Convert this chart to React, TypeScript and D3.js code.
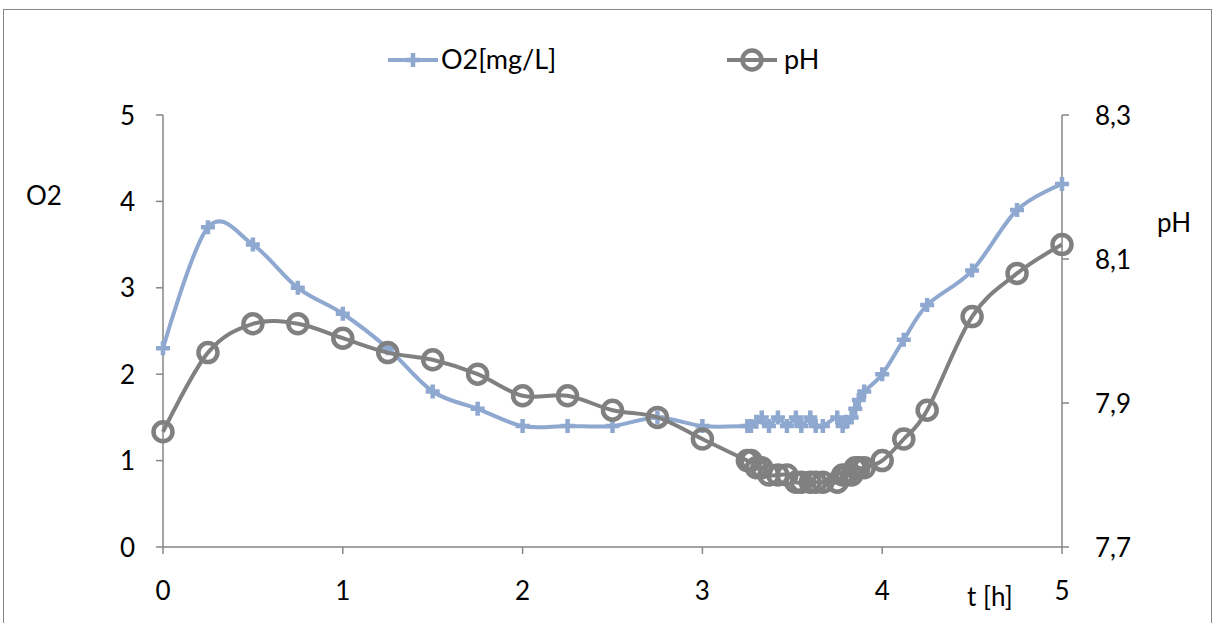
import React from "react";
import * as d3 from "d3";

const tHours = [0, 0.25, 0.5, 0.75, 1, 1.25, 1.5, 1.75, 2, 2.25, 2.5, 2.75, 3,
  3.25, 3.27, 3.3, 3.33, 3.37, 3.42, 3.47, 3.52, 3.55, 3.6, 3.63, 3.67, 3.75, 3.78, 3.8, 3.83, 3.85, 3.87, 3.9,
  4, 4.12, 4.25, 4.5, 4.75, 5];
const o2Values = [2.3, 3.7, 3.5, 3.0, 2.7, 2.3, 1.8, 1.6, 1.4, 1.4, 1.4, 1.5, 1.4,
  1.4, 1.4, 1.45, 1.5, 1.4, 1.5, 1.4, 1.5, 1.4, 1.5, 1.4, 1.4, 1.5, 1.4, 1.45, 1.5, 1.6, 1.7, 1.8,
  2.0, 2.4, 2.8, 3.2, 3.9, 4.2];
const phValues = [7.86, 7.97, 8.01, 8.01, 7.99, 7.97, 7.96, 7.94, 7.91, 7.91, 7.89, 7.88, 7.85,
  7.82, 7.82, 7.81, 7.81, 7.80, 7.80, 7.80, 7.79, 7.79, 7.79, 7.79, 7.79, 7.79, 7.80, 7.80, 7.80, 7.81, 7.81, 7.81,
  7.82, 7.85, 7.89, 8.02, 8.08, 8.12];
const xTicks = [0, 1, 2, 3, 4, 5];
const leftTicks = [0, 1, 2, 3, 4, 5];
const rightTicks = [7.7, 7.9, 8.1, 8.3];
const seriesNames = ["O2[mg/L]", "pH"];

const O2_COLOR = "#8EA8D0";
const PH_COLOR = "#808080";
const AXIS_COLOR = "#868686";
const FONT = "Lato, 'Open Sans', sans-serif";
const FS = 26;

export default function App() {
  const W = 1215, H = 623;
  const x = d3.scaleLinear().domain([0, 5]).range([163, 1062]);
  const yL = d3.scaleLinear().domain([0, 5]).range([547, 115]);
  const yR = d3.scaleLinear().domain([7.7, 8.3]).range([547, 115]);
  const curve = d3.curveCardinal.tension(0);
  const o2Line = d3.line<number>().x((_, i) => x(tHours[i])).y((d) => yL(d)).curve(curve);
  const phLine = d3.line<number>().x((_, i) => x(tHours[i])).y((d) => yR(d)).curve(curve);

  const plus = (cx: number, cy: number, key: string | number, s = 7) => (
    <path key={key} d={`M${cx - s},${cy}H${cx + s}M${cx},${cy - s}V${cy + s}`} stroke={O2_COLOR} strokeWidth={4.5} fill="none" />
  );
  const circ = (cx: number, cy: number, key: string | number) => (
    <circle key={key} cx={cx} cy={cy} r={9.5} stroke={PH_COLOR} strokeWidth={4.5} fill="none" />
  );

  return (
    <svg width={W} height={H} style={{ position: "absolute", left: 0, top: 0 }} fontFamily={FONT}>
      <rect x={0} y={0} width={W} height={H} fill="#fff" />
      <rect x={3.5} y={9.5} width={1208} height={640} fill="none" stroke={AXIS_COLOR} strokeWidth={1} />

      {/* axes */}
      <line x1={163} x2={163} y1={115} y2={547} stroke={AXIS_COLOR} strokeWidth={1.5} />
      <line x1={1062} x2={1062} y1={115} y2={547} stroke={AXIS_COLOR} strokeWidth={1.5} />
      <line x1={163} x2={1062} y1={547} y2={547} stroke={AXIS_COLOR} strokeWidth={1.5} />
      {xTicks.map((t) => (
        <g key={"x" + t}>
          <line x1={x(t)} x2={x(t)} y1={547} y2={554} stroke={AXIS_COLOR} strokeWidth={1.5} />
          <text x={x(t)} y={600} textAnchor="middle" fontSize={FS} fill="#000">{t}</text>
        </g>
      ))}
      {leftTicks.map((t) => (
        <g key={"l" + t}>
          <line x1={156} x2={163} y1={yL(t)} y2={yL(t)} stroke={AXIS_COLOR} strokeWidth={1.5} />
          <text x={135} y={yL(t) + 9.5} textAnchor="end" fontSize={FS} fill="#000">{t}</text>
        </g>
      ))}
      {rightTicks.map((t) => (
        <g key={"r" + t}>
          <line x1={1062} x2={1069} y1={yR(t)} y2={yR(t)} stroke={AXIS_COLOR} strokeWidth={1.5} />
          <text x={1095} y={yR(t) + 9.5} textAnchor="start" fontSize={FS} fill="#000">{t.toFixed(1).replace(".", ",")}</text>
        </g>
      ))}
      <text x={26} y={205} fontSize={FS} fill="#000">O2</text>
      <text x={1157} y={232} fontSize={FS} fill="#000">pH</text>
      <text x={967} y={606} fontSize={FS} fill="#000">t [h]</text>

      {/* series */}
      <path d={o2Line(o2Values) || ""} fill="none" stroke={O2_COLOR} strokeWidth={4} />
      {o2Values.map((v, i) => plus(x(tHours[i]), yL(v), "p" + i))}
      <path d={phLine(phValues) || ""} fill="none" stroke={PH_COLOR} strokeWidth={4} />
      {phValues.map((v, i) => circ(x(tHours[i]), yR(v), "c" + i))}

      {/* legend */}
      <line x1={388} x2={438} y1={60} y2={60} stroke={O2_COLOR} strokeWidth={4} />
      {plus(413, 60, "lp")}
      <text x={441} y={69} fontSize={27} fill="#000">{seriesNames[0]}</text>
      <line x1={727} x2={777} y1={60} y2={60} stroke={PH_COLOR} strokeWidth={4} />
      {circ(752, 60, "lc")}
      <text x={784} y={69} fontSize={27} fill="#000">{seriesNames[1]}</text>
    </svg>
  );
}
